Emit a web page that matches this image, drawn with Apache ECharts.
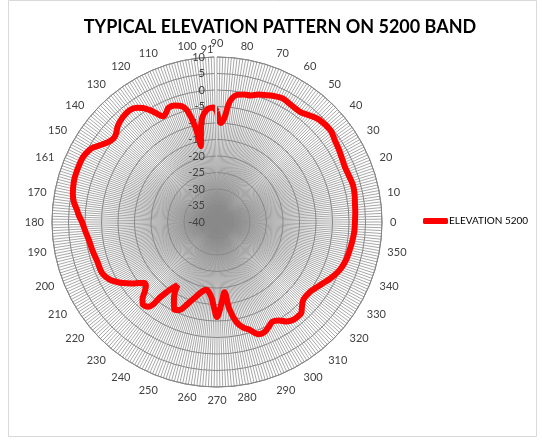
<!DOCTYPE html>
<html><head><meta charset="utf-8">
<script src="https://cdn.jsdelivr.net/npm/echarts@6/dist/echarts.min.js"></script>
<style>html,body{margin:0;padding:0;background:#fff}#c{width:542px;height:441px}</style>
</head><body><div id="c"></div>
<script>
// Angle categories run clockwise from the top (90) round to 91
const categories = [];
for (let i = 0; i < 360; i++) categories.push(String((90 - i + 360) % 360));
// Tick labels shown every 10 categories (clockwise from top), plus the last one
const tickLabels = ['90','80','70','60','50','40','30','20','10','0','350','340','330','320','310','300','290','280','270','260','250','240','230','220','210','200','190','180','170','161','150','140','130','120','110','100'];
const lastLabel = '91';
const radiusTicks = { min: -40, max: 10, step: 5 };
// Pattern: angle (deg) and gain (dB)
const angles = [92,90,88,86,84,81,78,75,72,68,65,62,58,53,49,45,39,35,31,27,23,19,15,11,8,4,0,
  356,352,348,344,340,337,333,330,327,324,321,318,315,313,311,308,305,302,299,296,293,290,287,284,281,278,276,274,272,270,268,266,263,261,258,254,252,249,247,244,242,240,238,235,233,231,228,226,224,222,220,218,216,213,211,208,204,198,193,188,184,180,177,175,172,169,164,160,157,154,151,149,146,144,141,139,136,132,128,125,123,120,117,115,113,110,107,105,103,102,100,98,95];
const gains = [-5.3,-6.5,-10,-8.5,-3.4,-1,-0.5,-0.3,0.6,1.4,2.0,2.4,2.0,1.8,2.8,3.8,4.2,3.5,3.0,2.5,2.2,2.4,2.7,2.5,2.2,2.0,1.8,
  1.7,1.4,1.1,0.8,0.2,-0.5,-1.8,-2.9,-3.8,-4.6,-4.9,-4.8,-3.6,-2.5,-2.3,-2.4,-3.2,-4.8,-5.4,-4.5,-3.6,-3.8,-5.8,-7,-9.1,-13.5,-18.6,-16.5,-13.5,-11.2,-14,-16.9,-18.8,-19.2,-18.5,-16.3,-15,-12.5,-11,-10.5,-12.2,-14,-17.4,-14.8,-11.5,-7,-6.4,-7.5,-9.5,-11,-11.3,-10,-8.3,-6,-4.7,-3,-1.9,-1.8,-1.3,-0.8,0,0.9,2,2.6,3.8,4.5,5.1,5.2,5.2,5.1,4.5,3.8,2.0,1,0.3,0.6,1.8,2.7,3,2.3,1.2,-1.4,-4.0,-3.5,-2.4,-2.4,-3.3,-5,-10,-16.5,-12,-8,-5.8];
const seriesName = 'ELEVATION 5200';
const titleText = 'TYPICAL ELEVATION PATTERN ON 5200 BAND';

const pts = angles.map((a, k) => [gains[k], (90 - a + 360) % 360]).sort((p, q) => p[1] - q[1]);
pts.push([pts[0][0], pts[0][1]]);

const lab = { fontFamily: 'Lato', fontSize: 11, color: '#404040' };
const chart = echarts.init(document.getElementById('c'), null, {renderer: 'canvas'});
chart.setOption({
  animation: false,
  title: { text: titleText, left: 275, top: 13, textAlign: 'center',
    textStyle: { fontFamily: 'Lato', fontWeight: 'bold', fontSize: 18, color: '#000' } },
  graphic: [{ type: 'rect', shape: { x: 8.5, y: 0.5, width: 528, height: 436 },
    style: { fill: 'none', stroke: '#d9d9d9', lineWidth: 1 }, silent: true }],
  legend: { show: true, left: 423, top: 216, padding: 0, orient: 'vertical', icon: 'roundRect', itemWidth: 25, itemHeight: 6, itemGap: 2,
    textStyle: { fontFamily: 'Lato', fontSize: 10, color: '#000', padding: [0,0,0,-4] }, data: [seriesName] },
  polar: [{ center: [217, 222], radius: 165 }, { center: [217, 222], radius: 165 }],
  angleAxis: [{
    polarIndex: 0, type: 'category', data: categories, startAngle: 90, clockwise: true, boundaryGap: false,
    axisLine: { show: true, lineStyle: { color: '#868686', width: 1 } },
    axisTick: { show: false, interval: 0 },
    splitLine: { show: true, interval: 0, lineStyle: { color: '#8a8a8a', width: 0.75 } },
    axisLabel: Object.assign({ interval: (i) => i % 10 === 0, margin: 8,
      formatter: (v, i) => tickLabels[Math.round(i / 10)] }, lab)
  }, {
    polarIndex: 1, type: 'category', data: categories, startAngle: 90, clockwise: true, boundaryGap: false,
    axisLine: { show: false }, axisTick: { show: false, interval: 0 }, splitLine: { show: false },
    axisLabel: Object.assign({ interval: (i) => i === 359, margin: 2,
      formatter: () => '{s|' + lastLabel + '}',
      rich: { s: Object.assign({ padding: [0, 14, 0, 0] }, lab) } }, lab)
  }],
  radiusAxis: [{
    polarIndex: 0, type: 'value', min: radiusTicks.min, max: radiusTicks.max, interval: radiusTicks.step,
    axisLine: { show: false }, axisTick: { show: false },
    splitLine: { show: true, lineStyle: { color: '#868686', width: 1 } },
    axisLabel: Object.assign({ margin: 12 }, lab)
  }, {
    polarIndex: 1, type: 'value', min: radiusTicks.min, max: radiusTicks.max, show: false,
    axisLine: { show: false }, axisTick: { show: false }, axisLabel: { show: false }, splitLine: { show: false }
  }],
  series: [{
    type: 'line', name: seriesName, coordinateSystem: 'polar', polarIndex: 0, data: pts,
    showSymbol: false, symbol: 'none', smooth: 0.35,
    lineStyle: { color: '#ff0000', width: 6 }, itemStyle: { color: '#ff0000' }, z: 5
  }]
});
</script></body></html>
